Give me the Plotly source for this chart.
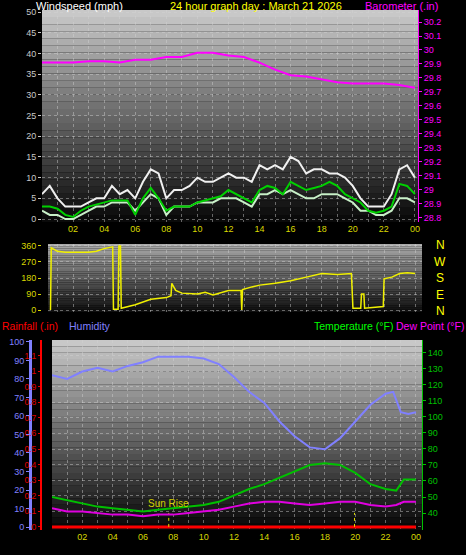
import plotly.graph_objects as go

# ---- data ----
hours_half = [i * 0.5 for i in range(49)]
gust = [6, 8, 5, 3, 3, 3, 4, 5, 5, 8, 6, 7, 5, 9, 12, 11, 5, 7, 7, 8, 10, 9, 9, 10, 11,
        10, 10, 9, 13, 12, 13, 12, 15, 14, 11, 12, 12, 11, 11, 10, 8, 5, 3, 3, 3, 6, 12, 13, 10]
speed = [2, 1, 1, 0, 0, 1, 2, 3, 3, 4, 4, 4, 2, 4, 6, 5, 1, 3, 3, 3, 4, 4, 4, 5, 5,
         5, 4, 3, 6, 6, 7, 6, 7, 6, 5, 5, 6, 6, 6, 5, 4, 2, 2, 1, 1, 2, 5, 5, 4]
avg_speed = [3, 3, 2.5, 1, 0.5, 2, 3, 3.5, 4, 4.5, 4.5, 4.5, 1, 5, 7.5, 5, 2, 3, 3, 3, 4, 4.5, 5, 5.5, 7,
             6, 5, 4, 7, 8, 7.5, 6, 9, 8, 7, 7.5, 8, 9, 8, 6, 5, 4, 2, 1.5, 2, 3, 8.5, 8, 6]

hours = list(range(25))
baro = [29.91, 29.91, 29.91, 29.92, 29.92, 29.91, 29.93, 29.93, 29.95, 29.95, 29.98, 29.98, 29.96,
        29.95, 29.91, 29.86, 29.82, 29.81, 29.79, 29.77, 29.76, 29.76, 29.76, 29.75, 29.73]

dir_t = [0.55, 0.6, 1.0, 1.5, 2.0, 3.0, 3.5, 4.0, 4.55, 4.6, 4.9, 4.95, 5.05, 5.1, 6, 7, 8, 8.3, 8.35,
         8.6, 9, 10, 10.5, 11, 12, 12.8, 12.85, 12.9, 13.5, 14, 15, 16, 17, 18, 19, 19.9, 20.0, 20.5,
         20.55, 20.7, 20.75, 21.5, 21.95, 22.0, 22.5, 23, 23.5, 24]
dir_v = [0, 350, 330, 325, 325, 325, 330, 345, 355, 5, 5, 360, 360, 10, 30, 60, 70, 80, 150,
         110, 95, 90, 100, 85, 110, 110, 0, 115, 130, 140, 150, 165, 185, 205, 200, 205, 10, 10,
         90, 90, 10, 15, 20, 175, 185, 205, 210, 205]

hum_t = [0, 1, 2, 3, 4, 5, 6, 7, 8, 9, 10, 11, 12, 13, 14, 15, 16, 17, 18, 19, 20, 21, 22, 22.5, 23, 23.5, 24]
humidity = [82, 80, 84, 86, 84, 87, 89, 92, 92, 92, 91, 88, 81, 73, 67, 57, 49, 43, 42, 48, 57, 66, 72, 73, 62, 61, 62]

temp_t = [0, 1, 2, 3, 4, 5, 6, 7, 8, 9, 10, 11, 12, 13, 14, 15, 16, 17, 18, 19, 20, 21, 22, 22.7, 23.2, 24]
temperature = [50, 48, 46, 44, 43, 42, 41, 42, 43, 44, 45, 47, 51, 55, 58, 62, 66, 70, 71, 70, 65, 58, 55, 54, 61, 61]
dewpoint = [43, 41, 41, 40, 39, 39, 38, 39, 39, 40, 41, 42, 44, 46, 47, 47, 46, 45, 46, 47, 47, 45, 44, 45, 47, 47]
rainfall = [0] * 25

hour_ticks = list(range(1, 25))
hour_labels = ["" if h % 2 else "%02d" % (h % 24) for h in hour_ticks]
sun_times = [7.7, 19.95]

W, H = 466, 555
fnt = "Liberation Sans"

fig = go.Figure()

# gradient backgrounds built from bands
def gradient(x0, x1, y0, y1, top, bottom, n=30):
    for i in range(n):
        f = i / (n - 1)
        g = int(top + (bottom - top) * f)
        fig.add_shape(type="rect", xref="paper", yref="paper", layer="below",
                      x0=x0 / W, x1=x1 / W,
                      y0=1 - (y0 + (y1 - y0) * (i + 1) / n) / H,
                      y1=1 - (y0 + (y1 - y0) * i / n) / H,
                      fillcolor="rgb(%d,%d,%d)" % (g, g, g), line_width=0)

gradient(42, 418, 10, 222, 200, 10)
gradient(48, 422, 244, 312, 170, 15)
gradient(52, 422, 340, 530, 200, 8)

# top panel: wind & barometer
fig.add_trace(go.Scatter(x=hours_half, y=gust, mode="lines", line=dict(color="#f0f0f0", width=2), xaxis="x", yaxis="y"))
fig.add_trace(go.Scatter(x=hours_half, y=speed, mode="lines", line=dict(color="#c8f0c8", width=2), xaxis="x", yaxis="y"))
fig.add_trace(go.Scatter(x=hours_half, y=avg_speed, mode="lines", line=dict(color="#00d000", width=2), xaxis="x", yaxis="y"))
fig.add_trace(go.Scatter(x=hours, y=baro, mode="lines", line=dict(color="#ff00ff", width=2), xaxis="x", yaxis="y2"))

# middle panel: wind direction
fig.add_trace(go.Scatter(x=dir_t, y=dir_v, mode="lines", line=dict(color="#f0f000", width=1.5), xaxis="x2", yaxis="y3"))

# bottom panel
fig.add_trace(go.Scatter(x=hum_t, y=humidity, mode="lines", line=dict(color="#8080ff", width=2), xaxis="x3", yaxis="y4"))
fig.add_trace(go.Scatter(x=temp_t, y=temperature, mode="lines", line=dict(color="#00c000", width=2), xaxis="x3", yaxis="y6"))
fig.add_trace(go.Scatter(x=temp_t, y=dewpoint, mode="lines", line=dict(color="#e000e0", width=2), xaxis="x3", yaxis="y6"))
fig.add_trace(go.Scatter(x=hours, y=rainfall, mode="lines", line=dict(color="#ff0000", width=3), xaxis="x3", yaxis="y5"))
for t in sun_times:
    fig.add_trace(go.Scatter(x=[t, t], y=[0, 0.09], mode="lines", line=dict(color="#e0e000", width=1, dash="dot"),
                             xaxis="x3", yaxis="y5"))

grid = dict(showgrid=True, gridcolor="rgba(210,210,210,0.45)", griddash="dot", gridwidth=1, zeroline=False,
            automargin=False)
tickf = dict(family=fnt, size=9)

xcommon = dict(tickvals=hour_ticks, ticktext=hour_labels, tickfont=dict(tickf, color="#d8d800"),
               ticks="", **grid)

fig.update_layout(
    width=W, height=H, margin=dict(l=0, r=0, t=0, b=0, autoexpand=False),
    paper_bgcolor="black", plot_bgcolor="rgba(0,0,0,0)", showlegend=False,
    xaxis=dict(domain=[42 / W, 418 / W], range=[0, 24.2], anchor="y", **xcommon),
    yaxis=dict(domain=[1 - 222 / H, 1 - 10 / H], range=[-0.72, 50.5], dtick=5,
               tickfont=dict(tickf, color="#c8c8c8"), ticks="outside", ticklen=3, tickcolor="#c8c8c8", **grid),
    yaxis2=dict(overlaying="y", side="right", range=[28.77, 30.286], dtick=0.1, showgrid=False, zeroline=False,
                automargin=False,
                tickfont=dict(tickf, color="#ff00ff"), ticks="outside", ticklen=3, tickcolor="#ff00ff",
                showline=True, linecolor="#ff00ff"),
    xaxis2=dict(domain=[48 / W, 422 / W], range=[0.39, 24.44], anchor="y3", tickvals=hour_ticks,
                showticklabels=False, **grid),
    yaxis3=dict(domain=[1 - 312 / H, 1 - 244 / H], range=[-11, 371], tickvals=[0, 90, 180, 270, 360],
                tickfont=dict(tickf, color="#d8d800"), ticks="outside", ticklen=3, tickcolor="#d8d800", **grid),
    xaxis3=dict(domain=[52 / W, 422 / W], range=[0, 24.4], anchor="y5", **xcommon),
    yaxis4=dict(overlaying="y5", anchor="free", position=30 / W, range=[-1.6, 101], dtick=10,
                automargin=False,
                tickfont=dict(tickf, color="#8080ff"), ticks="outside", ticklen=3, tickcolor="#8080ff",
                showline=True, linecolor="#8080ff", linewidth=3, showgrid=False, zeroline=False),
    yaxis5=dict(domain=[1 - 530 / H, 1 - 340 / H], range=[-0.02, 1.2],
                tickvals=[0, 0.1, 0.2, 0.3, 0.4, 0.5, 0.6, 0.7, 0.8, 0.9, 1, 1.1],
                ticktext=["0", "0.1", "0.2", "0.3", "0.4", "0.5", "0.6", "0.7", "0.8", "0.9", "1", "1.1"],
                tickfont=dict(family=fnt, size=8.5, color="#e00000"), ticks="outside", ticklen=2, tickcolor="#e00000",
                showline=True, linecolor="#ff0000", linewidth=2, **grid),
    yaxis6=dict(overlaying="y5", side="right", anchor="x3", range=[29.4, 148], tickvals=[40, 50, 60, 70, 80, 90, 100, 110, 120, 130, 140],
                automargin=False,
                tickfont=dict(tickf, color="#00c000"), ticks="outside", ticklen=3, tickcolor="#00c000",
                showline=True, linecolor="#00c000", showgrid=False, zeroline=False),
)

def label(text, x, y, color, size=11, anchor="left"):
    fig.add_annotation(text=text, x=x / W, y=1 - y / H, xref="paper", yref="paper", showarrow=False,
                       xanchor=anchor, yanchor="middle", font=dict(family=fnt, size=size, color=color))

label("Windspeed (mph)", 34, 6, "#ffffff")
label("24 hour graph day : March 21 2026", 256, 6, "#ffff00", anchor="center")
label("Barometer (.in)", 440, 6, "#ff00ff", anchor="right")
for i, c in enumerate(["N", "W", "S", "E", "N"]):
    label(c, 440, 245 + i * 16.5, "#ffff00", size=12, anchor="center")
label("Rainfall (.in)", 0, 326, "#ff0000", size=10.5)
label("Humidity", 67, 326, "#8080ff", size=10.5)
label("Temperature (°F)", 312, 326, "#00ff00", size=10.5)
label("Dew Point (°F)", 394, 326, "#ff00ff", size=10.5)
fig.add_annotation(text="Sun Rise", x=7.7, y=0.1, xref="x3", yref="y5", showarrow=False, yanchor="bottom",
                   font=dict(family=fnt, size=10, color="#d0d000"))

fig.write_html("out.html", config={"displayModeBar": False},
               post_script="document.body.style.margin='0';document.body.style.background='black';")
